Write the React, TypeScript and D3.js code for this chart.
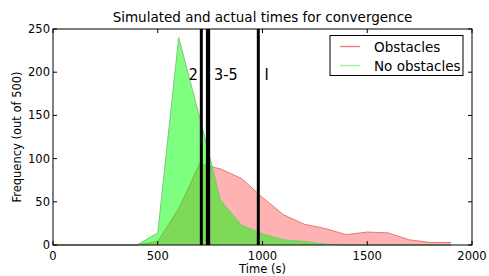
import * as d3 from 'd3'

const times = [0, 100, 200, 300, 400, 500, 600, 700, 800, 900, 1000, 1100, 1200, 1300, 1400, 1500, 1600, 1700, 1800, 1900]
const obstacles = [0, 0, 0, 0, 0, 4, 42, 94, 88, 77, 55, 35, 24, 19, 12, 15, 14, 6, 3, 3]
const noObstacles = [0, 0, 0, 0, 0, 14, 240, 148, 52, 23, 13, 6, 4, 1, 0, 0, 0, 0, 0, 0]
const actualTimes = [708, 737, 740, 743, 980]
const runLabels = [
  { text: '2', x: 670 },
  { text: '3-5', x: 825 },
  { text: 'I', x: 1020 },
]
const xTicks = [0, 500, 1000, 1500, 2000]
const yTicks = [0, 50, 100, 150, 200, 250]

const W = 489
const H = 276
const margin = { top: 29, right: 17, bottom: 31, left: 53 }
const width = W - margin.left - margin.right
const height = H - margin.top - margin.bottom

const font = 'DejaVu Sans, sans-serif'

export default function App() {
  const x = d3.scaleLinear().domain([0, 2000]).range([0, width])
  const y = d3.scaleLinear().domain([0, 250]).range([height, 0])

  const area = (vals: number[]) =>
    d3
      .area<number>()
      .x((_, i) => x(times[i]))
      .y0(y(0))
      .y1((d) => y(d))(vals) || ''
  const line = (vals: number[]) =>
    d3
      .line<number>()
      .x((_, i) => x(times[i]))
      .y((d) => y(d))(vals) || ''

  return (
    <svg
      width={W}
      height={H}
      style={{ position: 'absolute', left: 0, top: 0, background: '#fff' }}
      fontFamily={font}
    >
      <text x={margin.left + width / 2} y={22} textAnchor="middle" fontSize={13.5}>
        Simulated and actual times for convergence
      </text>
      <g transform={`translate(${margin.left},${margin.top})`}>
        <path d={area(obstacles)} fill="rgb(255,0,0)" fillOpacity={0.3} stroke="none" />
        <path d={line(obstacles)} fill="none" stroke="#e07a7a" strokeWidth={1} />
        <path d={area(noObstacles)} fill="rgb(0,255,0)" fillOpacity={0.5} stroke="none" />
        <path d={line(noObstacles)} fill="none" stroke="#7cc87c" strokeWidth={1} />

        {actualTimes.map((t, i) => (
          <line key={i} x1={x(t)} x2={x(t)} y1={0} y2={height} stroke="#000" strokeWidth={3} />
        ))}
        {runLabels.map((l) => (
          <text
            key={l.text}
            x={x(l.x)}
            y={51}
            textAnchor="middle"
            fontSize={16}
            fontFamily="DejaVu Sans Condensed, sans-serif"
          >
            {l.text}
          </text>
        ))}

        <rect x={0} y={0} width={width} height={height} fill="none" stroke="#000" strokeWidth={1} />
        {xTicks.map((t) => (
          <g key={t}>
            <line x1={x(t)} x2={x(t)} y1={height} y2={height - 4} stroke="#000" />
            <line x1={x(t)} x2={x(t)} y1={0} y2={4} stroke="#000" />
            <text x={x(t)} y={height + 15} textAnchor="middle" fontSize={11.5}>
              {t}
            </text>
          </g>
        ))}
        {yTicks.map((t) => (
          <g key={t}>
            <line x1={0} x2={4} y1={y(t)} y2={y(t)} stroke="#000" />
            <line x1={width} x2={width - 4} y1={y(t)} y2={y(t)} stroke="#000" />
            <text x={-3} y={y(t) + 4} textAnchor="end" fontSize={11.5}>
              {t}
            </text>
          </g>
        ))}
        <text x={width / 2} y={height + 28} textAnchor="middle" fontSize={11.5}>
          Time (s)
        </text>
        <text
          transform={`translate(${-32},${height / 2}) rotate(-90)`}
          textAnchor="middle"
          fontSize={11.5}
        >
          Frequency (out of 500)
        </text>

        <g transform={`translate(${330 - margin.left},${35.5 - margin.top})`}>
          <rect x={0} y={0} width={133} height={40} fill="#fff" stroke="#000" strokeWidth={1} />
          <line x1={10} x2={30} y1={11} y2={11} stroke="#f08080" strokeWidth={1.5} />
          <text x={44} y={16} fontSize={13.5}>
            Obstacles
          </text>
          <line x1={10} x2={30} y1={30} y2={30} stroke="#a0f0a0" strokeWidth={1.5} />
          <text x={44} y={35} fontSize={13.5}>
            No obstacles
          </text>
        </g>
      </g>
    </svg>
  )
}
